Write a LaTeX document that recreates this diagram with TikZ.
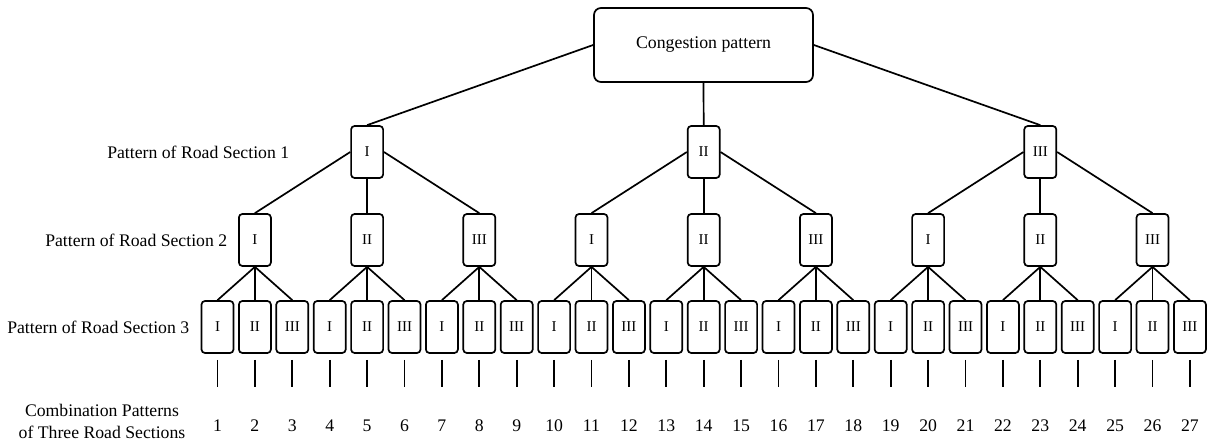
\documentclass[tikz,border=0pt]{standalone}
\usepackage{fontspec}
\setmainfont{Liberation Serif}
\begin{document}
\begin{tikzpicture}[x=1pt,y=-1pt,
  line width=1.7pt,
  pbox/.style={draw, rounded corners=3.5pt, minimum width=32pt, minimum height=52pt, inner sep=0pt, font=\fontsize{15}{16}\selectfont},
  topbox/.style={draw, rounded corners=7pt, minimum width=219pt, minimum height=74pt, inner sep=0pt, font=\fontsize{17.8}{20}\selectfont},
  lbl/.style={font=\fontsize{17.7}{20}\selectfont, inner sep=0pt},
  num/.style={font=\fontsize{17.7}{20}\selectfont, inner sep=0pt}]
\useasboundingbox (0,0) rectangle (1210,443);
\def\lx#1{217.5+37.4*(#1-1)}
% top
\node[topbox] (top) at (703.5,45) {Congestion pattern};
% level 1
\foreach \i/\r [count=\k from 0] in {1/I,2/II,3/III}{
  \node[pbox] (a\i) at ({\lx{5+9*\k}},152) {\r};
}
\draw (top.west) -- (a1.north);
\draw (top.south) -- (a2.north);
\draw (top.east) -- (a3.north);
% level 2
\foreach \i in {1,2,3}{
  \foreach \j/\r [count=\k from 0] in {1/I,2/II,3/III}{
    \pgfmathtruncatemacro{\m}{(\i-1)*9+\k*3+2}
    \node[pbox] (b\i\j) at ({\lx{\m}},240) {\r};
  }
  \draw (a\i.west) -- (b\i1.north);
  \draw (a\i.south) -- (b\i2.north);
  \draw (a\i.east) -- (b\i3.north);
}
% level 3
\foreach \i in {1,2,3}{
  \foreach \j in {1,2,3}{
    \foreach \l/\r [count=\k from 1] in {1/I,2/II,3/III}{
      \pgfmathtruncatemacro{\m}{(\i-1)*9+(\j-1)*3+\k}
      \node[pbox] (c\m) at ({\lx{\m}},327) {\r};
      \draw (b\i\j.south) -- (c\m.north);
      \coordinate (t\m) at ({\lx{\m}},360);
      \coordinate (u\m) at ({\lx{\m}},387);
      \draw (t\m) -- (u\m);
      \node[num] (n\m) at ({\lx{\m}},426) {\m};
    }
  }
}
% labels
\node[lbl, anchor=east] (L1) at (290,152) {Pattern of Road Section 1};
\node[lbl, anchor=east] (L2) at (228,240) {Pattern of Road Section 2};
\node[lbl, anchor=east] (L3) at (190,327) {Pattern of Road Section 3};
\node[lbl, align=center, font=\fontsize{17.7}{22}\selectfont] (L4) at (102,421) {Combination Patterns\\of Three Road Sections};
\end{tikzpicture}
\end{document}
